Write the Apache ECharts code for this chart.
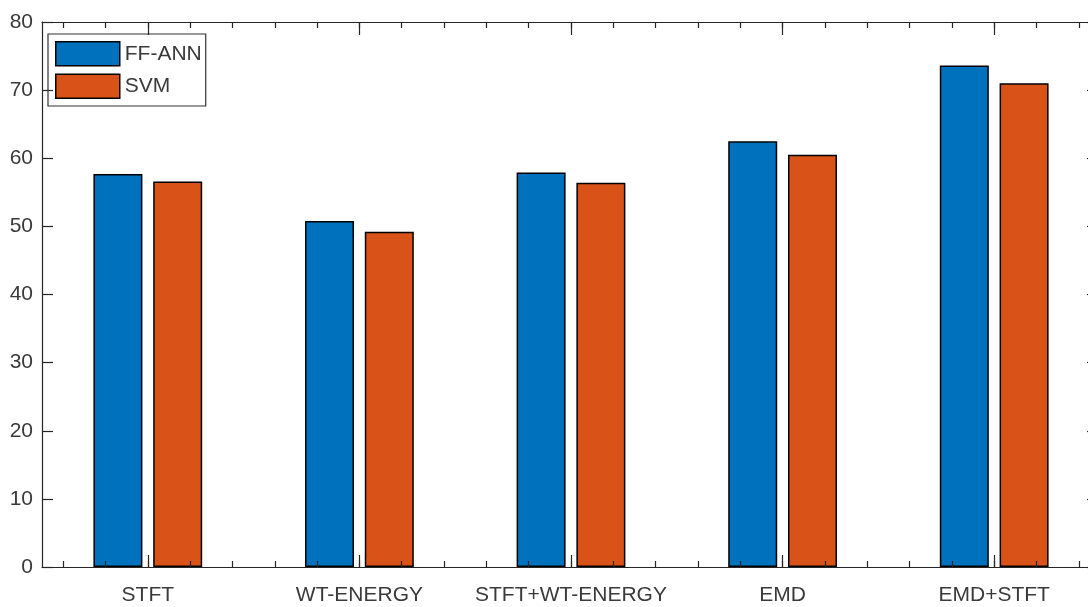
<!DOCTYPE html>
<html>
<head>
<meta charset="utf-8">
<script src="https://cdn.jsdelivr.net/npm/echarts@6/dist/echarts.min.js"></script>
<style>
  html, body { margin: 0; padding: 0; background: #fff; overflow: hidden; }
  /* the plot box runs slightly past the right edge of the window */
  #chart { width: 1104px; height: 607px; }
</style>
</head>
<body>
<div id="chart"></div>
<script>
// Feature-extraction methods compared by classifier accuracy
const categories = ['STFT', 'WT-ENERGY', 'STFT+WT-ENERGY', 'EMD', 'EMD+STFT'];
const ffAnn = [57.7, 50.8, 57.9, 62.5, 73.6];
const svm = [56.6, 49.2, 56.4, 60.5, 71.0];
const seriesNames = ['FF-ANN', 'SVM'];
const yMin = 0, yMax = 80, yStep = 10;

// minor tick slots: five per category, centred on 0.2 steps
const minorSlots = Array.from({ length: categories.length * 5 }, () => '');

const FONT = 'Liberation Sans, Arial, Helvetica, sans-serif';
const AXIS = '#262626';
const TEXT = '#3a3a3a';

const chart = echarts.init(document.getElementById('chart'), null, { renderer: 'canvas' });

const axisLine = { show: true, onZero: false, lineStyle: { color: AXIS, width: 1.2 } };
const tickStyle = { color: AXIS, width: 1.2 };

chart.setOption({
  animation: false,
  textStyle: { fontFamily: FONT },
  grid: { left: 42, top: 22, width: 1058, height: 545, containLabel: false, outerBoundsMode: 'none' },
  legend: {
    orient: 'vertical',
    left: 48,
    top: 34,
    padding: [7, 4, 7, 7],
    itemWidth: 64,
    itemHeight: 24,
    itemGap: 7,
    icon: 'rect',
    backgroundColor: '#fff',
    borderColor: '#333',
    borderWidth: 1.2,
    borderRadius: 0,
    textStyle: { fontFamily: FONT, fontSize: 21, color: TEXT },
    itemStyle: { borderColor: '#000', borderWidth: 1.5 },
    data: seriesNames
  },
  xAxis: [
    {
      type: 'category',
      data: categories,
      position: 'bottom',
      z: 10,
      axisLine: axisLine,
      axisTick: { show: true, inside: true, length: 12, alignWithLabel: true, interval: 0, lineStyle: tickStyle },
      axisLabel: { fontSize: 21, color: TEXT, margin: 18, interval: 0, fontFamily: FONT },
      splitLine: { show: false }
    },
    {
      type: 'category',
      data: categories,
      position: 'top',
      z: 10,
      axisLine: axisLine,
      axisTick: { show: true, inside: true, length: 13, alignWithLabel: true, interval: 0, lineStyle: tickStyle },
      axisLabel: { show: false },
      splitLine: { show: false }
    },
    {
      type: 'category',
      data: minorSlots,
      position: 'bottom',
      offset: 0,
      z: 10,
      axisLine: { show: false, onZero: false },
      axisTick: { show: true, inside: true, length: 6, alignWithLabel: true, interval: 0, lineStyle: tickStyle },
      axisLabel: { show: false, interval: 0 },
      splitLine: { show: false }
    },
    {
      type: 'category',
      data: minorSlots,
      position: 'top',
      offset: 0,
      z: 10,
      axisLine: { show: false, onZero: false },
      axisTick: { show: true, inside: true, length: 6, alignWithLabel: true, interval: 0, lineStyle: tickStyle },
      axisLabel: { show: false, interval: 0 },
      splitLine: { show: false }
    }
  ],
  yAxis: [
    {
      type: 'value',
      min: yMin, max: yMax, interval: yStep,
      position: 'left',
      z: 10,
      axisLine: axisLine,
      axisTick: { show: true, inside: true, length: 11, lineStyle: tickStyle },
      axisLabel: { fontSize: 21, color: TEXT, margin: 9, fontFamily: FONT },
      splitLine: { show: false }
    },
    {
      type: 'value',
      min: yMin, max: yMax, interval: yStep,
      position: 'right',
      z: 10,
      axisLine: axisLine,
      axisTick: { show: true, inside: true, length: 13, lineStyle: tickStyle },
      axisLabel: { show: false },
      splitLine: { show: false }
    }
  ],
  series: [
    {
      name: seriesNames[0],
      type: 'bar',
      xAxisIndex: 0,
      yAxisIndex: 0,
      data: ffAnn,
      barWidth: 49,
      barGap: '22%',
      itemStyle: { color: '#0072BD', borderColor: '#000', borderWidth: 1.5 }
    },
    {
      name: seriesNames[1],
      type: 'bar',
      xAxisIndex: 0,
      yAxisIndex: 0,
      data: svm,
      barWidth: 49,
      barGap: '22%',
      itemStyle: { color: '#D95319', borderColor: '#000', borderWidth: 1.5 }
    }
  ]
});
</script>
</body>
</html>
